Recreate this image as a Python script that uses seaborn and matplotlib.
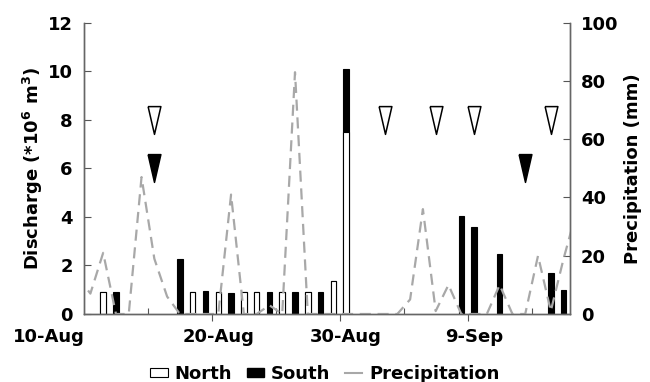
import numpy as np
import pandas as pd
import matplotlib
matplotlib.use('Agg')
import matplotlib.pyplot as plt
import matplotlib.transforms as mtrans
import seaborn as sns
from matplotlib.patches import Patch
from matplotlib.lines import Line2D

matplotlib.rcParams['font.family'] = 'DejaVu Sans'
matplotlib.rcParams['font.weight'] = 'bold'
matplotlib.rcParams['font.size'] = 13
matplotlib.rcParams['axes.linewidth'] = 1

# daily categories on the x axis
days = pd.date_range('2000-08-10', '2000-09-16')
day_labels = [f'{d.day}-{d.strftime("%b")}' for d in days]
tick_labels = ['10-Aug', '20-Aug', '30-Aug', '9-Sep']

# discharge (*10^6 m3)
north_dates = ['11-Aug', '18-Aug', '20-Aug', '22-Aug', '23-Aug', '25-Aug', '27-Aug', '29-Aug', '30-Aug']
north_vals = [0.9, 0.9, 0.9, 0.9, 0.9, 0.9, 0.9, 1.37, 7.5]
south_dates = ['12-Aug', '17-Aug', '19-Aug', '21-Aug', '24-Aug', '26-Aug', '28-Aug', '30-Aug',
               '8-Sep', '9-Sep', '11-Sep', '15-Sep', '16-Sep']
south_vals = [0.9, 2.25, 0.93, 0.85, 0.9, 0.9, 0.9, 2.6, 4.05, 3.6, 2.46, 1.68, 0.99]

# precipitation (mm), daily from 9-Aug to 17-Sep
precip_start = '2000-08-09'
precip_vals = [13, 7, 21, 0, 0, 47, 19, 6, 0, 0, 0, 0, 41, 0, 0, 3, 0, 83,
               0, 0, 0, 0, 0, 0, 0, 0,
               5, 36, 1, 10, 0, 0, 0, 10, 0, 0, 20, 1, 19, 35]

# sampling events (triangles)
open_dates = ['15-Aug', '2-Sep', '6-Sep', '9-Sep', '15-Sep']
open_level = 8
filled_dates = ['15-Aug', '13-Sep']
filled_level = 6

north = pd.Series(north_vals, index=north_dates).reindex(day_labels)
south = pd.Series(south_vals, index=south_dates).reindex(day_labels)
total = north.fillna(0) + south.fillna(0)
total[north.isna() & south.isna()] = np.nan
bars = pd.DataFrame({'day': day_labels, 'north': north.values, 'total': total.values})

pos = {lab: i for i, lab in enumerate(day_labels)}
precip_x = (pd.date_range(precip_start, periods=len(precip_vals)) - days[0]).days

fig, ax = plt.subplots(figsize=(6.5, 3.82), dpi=100)
fig.subplots_adjust(left=0.1292, right=0.8769, bottom=0.178, top=0.9406)

sns.barplot(data=bars, x='day', y='total', order=day_labels, color='black', saturation=1,
            width=0.43, edgecolor='black', linewidth=0.8, errorbar=None, ax=ax)
sns.barplot(data=bars, x='day', y='north', order=day_labels, color='white', saturation=1,
            width=0.43, edgecolor='black', linewidth=0.8, errorbar=None, ax=ax)

tri = [(-0.46, 1), (0.46, 1), (0, -1), (-0.46, 1)]
sns.scatterplot(x=[pos[d] for d in open_dates], y=[open_level] * len(open_dates), marker=tri,
                s=400, color='white', edgecolor='black', linewidth=1.1, ax=ax, zorder=5)
sns.scatterplot(x=[pos[d] for d in filled_dates], y=[filled_level] * len(filled_dates), marker=tri,
                s=400, color='black', edgecolor='black', linewidth=1.1, ax=ax, zorder=5)

ax2 = ax.twinx()
sns.lineplot(x=precip_x, y=precip_vals, color='#a8a8a8', lw=1.6, linestyle=(0, (5, 3)), ax=ax2)

ax.set_xlim(-0.5, len(day_labels) - 0.5)
ax.set_ylim(0, 12)
ax2.set_ylim(0, 100)
ax.set_yticks(np.arange(0, 13, 2))
ax2.set_yticks(np.arange(0, 101, 20))

ax.set_xticks([9.5, 19.5, 29.5], labels=['', '', ''])
ax.set_xticks([pos[t] for t in tick_labels], labels=tick_labels, minor=True)
ax.tick_params(axis='x', which='major', direction='out', length=5, color='#555555')
ax.tick_params(axis='x', which='minor', length=0, pad=10)
sec = ax.secondary_xaxis('bottom')
sec.set_xticks([4.5, 14.5, 24.5, 34.5], labels=['', '', '', ''])
sec.tick_params(direction='in', length=4, color='#555555')
sec.spines['bottom'].set_visible(False)

lab0 = ax.get_xticklabels(minor=True)[0]
lab0.set_ha('right')
lab0.set_transform(lab0.get_transform() + mtrans.ScaledTranslation(-0.06, 0, fig.dpi_scale_trans))

ax.tick_params(axis='y', direction='in', length=5, color='#555555', pad=8)
ax2.tick_params(axis='y', direction='in', length=5, color='#555555', pad=8)

ax.set_xlabel('')
ax.set_ylabel(r'Discharge (*10$^6$ m$^3$)', fontweight='bold', labelpad=2)
ax2.set_ylabel('Precipitation (mm)', fontweight='bold', labelpad=4)

for a in (ax, ax2):
    a.spines['top'].set_visible(False)
    for s in ('left', 'right', 'bottom'):
        a.spines[s].set_color('#666666')

handles = [Patch(facecolor='white', edgecolor='black', linewidth=0.8, label='North'),
           Patch(facecolor='black', edgecolor='black', label='South'),
           Line2D([], [], color='#a8a8a8', lw=1.5, label='Precipitation')]
fig.legend(handles=handles, loc='lower center', bbox_to_anchor=(0.5, -0.045), ncol=3,
           frameon=False, handlelength=0.95, handleheight=0.4, handletextpad=0.4,
           columnspacing=0.8)

plt.savefig('out.png')
